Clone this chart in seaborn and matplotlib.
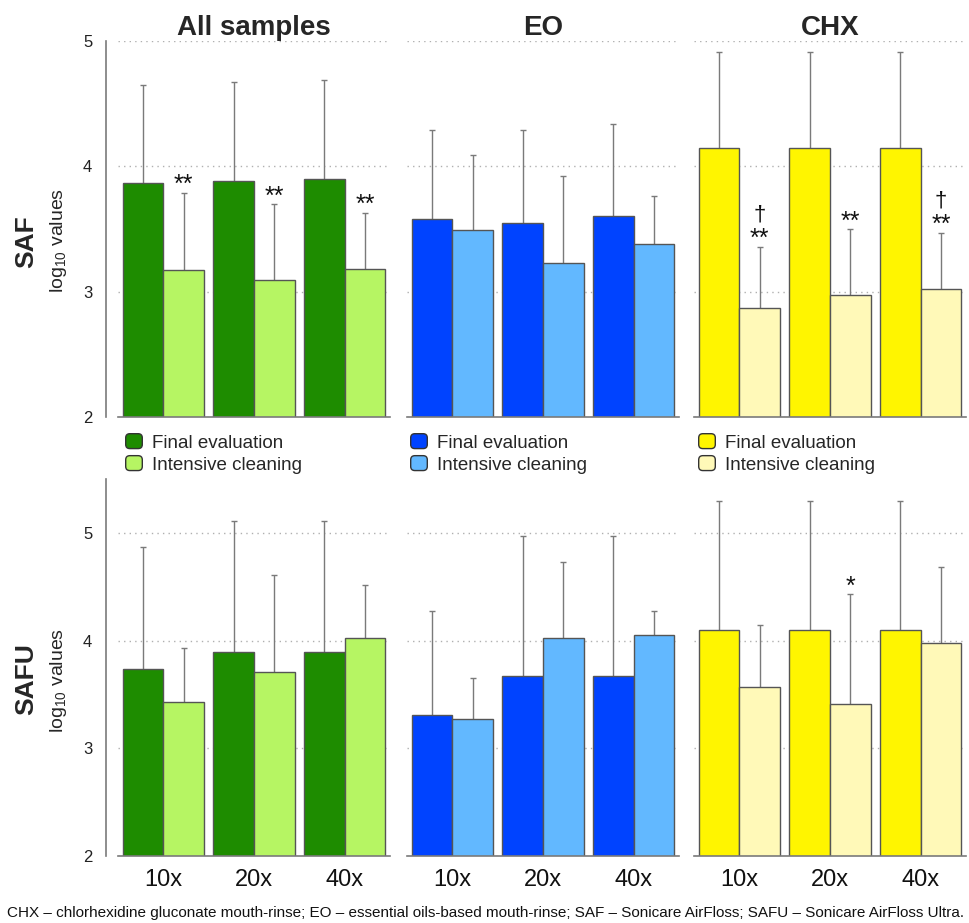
import numpy as np
import pandas as pd
import matplotlib
matplotlib.use("Agg")
import matplotlib.pyplot as plt
import seaborn as sns
from matplotlib.patches import Patch, FancyBboxPatch
from matplotlib.legend_handler import HandlerPatch

# ---------------- data ----------------
mags = ["10x", "20x", "40x"]
groups = ["All samples", "EO", "CHX"]
stages = ["Final evaluation", "Intensive cleaning"]

# SAF (top row)
saf_final_all = [3.87, 3.88, 3.90]
saf_final_eo = [3.58, 3.55, 3.60]
saf_final_chx = [4.15, 4.15, 4.15]
saf_final_err_all = [4.65, 4.67, 4.69]
saf_final_err_eo = [4.29, 4.29, 4.34]
saf_final_err_chx = [4.91, 4.91, 4.91]
saf_int_all = [3.17, 3.09, 3.18]
saf_int_eo = [3.49, 3.23, 3.38]
saf_int_chx = [2.87, 2.97, 3.02]
saf_int_err_all = [3.79, 3.70, 3.63]
saf_int_err_eo = [4.09, 3.92, 3.76]
saf_int_err_chx = [3.36, 3.50, 3.47]

# SAFU (bottom row)
safu_final_all = [3.74, 3.89, 3.89]
safu_final_eo = [3.31, 3.67, 3.67]
safu_final_chx = [4.10, 4.10, 4.10]
safu_final_err_all = [4.87, 5.11, 5.11]
safu_final_err_eo = [4.27, 4.97, 4.97]
safu_final_err_chx = [5.30, 5.30, 5.30]
safu_int_all = [3.43, 3.71, 4.02]
safu_int_eo = [3.27, 4.02, 4.05]
safu_int_chx = [3.57, 3.41, 3.98]
safu_int_err_all = [3.93, 4.61, 4.52]
safu_int_err_eo = [3.65, 4.73, 4.27]
safu_int_err_chx = [4.14, 4.43, 4.68]

# significance marks on the intensive-cleaning bars
saf_stars = {"All samples": ["**", "**", "**"], "EO": ["", "", ""], "CHX": ["**", "**", "**"]}
saf_dagger = {"All samples": ["", "", ""], "EO": ["", "", ""], "CHX": ["†", "", "†"]}
safu_stars = {"All samples": ["", "", ""], "EO": ["", "", ""], "CHX": ["", "*", ""]}
safu_dagger = {"All samples": ["", "", ""], "EO": ["", "", ""], "CHX": ["", "", ""]}

palettes = {
    "All samples": ["#1E8C00", "#B6F563"],
    "EO": ["#0043FF", "#62B8FF"],
    "CHX": ["#FFF500", "#FFF9B8"],
}

rows = [
    dict(name="SAF",
         final={"All samples": saf_final_all, "EO": saf_final_eo, "CHX": saf_final_chx},
         final_err={"All samples": saf_final_err_all, "EO": saf_final_err_eo, "CHX": saf_final_err_chx},
         inten={"All samples": saf_int_all, "EO": saf_int_eo, "CHX": saf_int_chx},
         inten_err={"All samples": saf_int_err_all, "EO": saf_int_err_eo, "CHX": saf_int_err_chx},
         stars=saf_stars, dagger=saf_dagger, ylim=(2, 5)),
    dict(name="SAFU",
         final={"All samples": safu_final_all, "EO": safu_final_eo, "CHX": safu_final_chx},
         final_err={"All samples": safu_final_err_all, "EO": safu_final_err_eo, "CHX": safu_final_err_chx},
         inten={"All samples": safu_int_all, "EO": safu_int_eo, "CHX": safu_int_chx},
         inten_err={"All samples": safu_int_err_all, "EO": safu_int_err_eo, "CHX": safu_int_err_chx},
         stars=safu_stars, dagger=safu_dagger, ylim=(2, 5.5)),
]

# ---------------- style ----------------
sns.set_style("white")
plt.rcParams["font.family"] = ["Liberation Sans", "DejaVu Sans"]
plt.rcParams["mathtext.fontset"] = "custom"
plt.rcParams["mathtext.rm"] = "Liberation Sans"
plt.rcParams["mathtext.it"] = "Liberation Sans:italic"
plt.rcParams["mathtext.bf"] = "Liberation Sans:bold"

W, H = 970, 923
fig = plt.figure(figsize=(W / 100, H / 100), dpi=100)

lefts_px = [118, 407, 694]
width_px = 272
row_boxes = [(417, 376), (856, 377)]  # (bottom px from top, height px)

GRAY = "#7a7a7a"


class RoundHandler(HandlerPatch):
    def create_artists(self, legend, orig_handle, xdescent, ydescent,
                       width, height, fontsize, trans):
        p = FancyBboxPatch((-xdescent + 0.5, -ydescent + 0.5), width - 1, height - 1,
                           boxstyle="round,pad=0,rounding_size=3",
                           fc=orig_handle.get_facecolor(), ec="#333333", lw=1.0,
                           transform=trans)
        return [p]


for r, row in enumerate(rows):
    bpx, hpx = row_boxes[r]
    for g, grp in enumerate(groups):
        ax = fig.add_axes([lefts_px[g] / W, (H - bpx) / H, width_px / W, hpx / H])
        df = pd.DataFrame({
            "mag": mags * 2,
            "stage": [stages[0]] * 3 + [stages[1]] * 3,
            "value": list(row["final"][grp]) + list(row["inten"][grp]),
            "top": list(row["final_err"][grp]) + list(row["inten_err"][grp]),
        })
        sns.barplot(data=df, x="mag", y="value", hue="stage", order=mags,
                    hue_order=stages, palette=palettes[grp], width=0.9, gap=0,
                    saturation=1, edgecolor="#555555", linewidth=1.0,
                    errorbar=None, legend=False, ax=ax, zorder=2)
        ax.set_xlim(-0.5, 2.5)
        ax.set_ylim(*row["ylim"])

        # error bars (upper only) from the drawn bars
        for p in ax.patches:
            cx = p.get_x() + p.get_width() / 2
            gi = int(round(cx))
            hi = 0 if cx < gi else 1
            sel = df[(df["mag"] == mags[gi]) & (df["stage"] == stages[hi])].iloc[0]
            val, top = sel["value"], sel["top"]
            eb = ax.errorbar([cx], [val], yerr=[[0], [top - val]], fmt="none",
                             ecolor=GRAY, elinewidth=1.0, capsize=2.2,
                             capthick=1.0, zorder=1.5)
            eb[1][0].set_visible(False)
            if hi == 1:
                star = row["stars"][grp][gi]
                dag = row["dagger"][grp][gi]
                if star:
                    ax.annotate(star, (cx, top), xytext=(0, 0.3),
                                textcoords="offset points", ha="center",
                                va="baseline", fontsize=18, color="#111111")
                if dag:
                    ax.annotate(dag, (cx, top), xytext=(0, 19),
                                textcoords="offset points", ha="center",
                                va="baseline", fontsize=16, color="#111111")

        # grid
        ax.set_yticks([2, 3, 4, 5])
        ax.yaxis.grid(True, linestyle=(0, (1, 3)), color="#b0b0b0", lw=1.0)
        ax.xaxis.grid(False)
        ax.set_axisbelow(True)

        for s in ["top", "right"]:
            ax.spines[s].set_visible(False)
        ax.spines["bottom"].set_color(GRAY)
        ax.spines["bottom"].set_linewidth(1.2)

        ax.set_xlabel("")
        ax.set_ylabel("")
        ax.set_xticks([0.5, 1.5], minor=True)
        ax.tick_params(axis="x", which="major", length=0, pad=9,
                       labelsize=17, labelcolor="#111111")
        ax.tick_params(axis="x", which="minor", length=7.2, width=1.2,
                       color=GRAY, direction="out")
        if r == 0:
            ax.tick_params(axis="x", which="major", labelbottom=False)

        if g == 0:
            ax.spines["left"].set_position(("outward", 8.6))
            ax.spines["left"].set_color(GRAY)
            ax.spines["left"].set_linewidth(1.2)
            minors = [2.5, 3.5, 4.5] + ([5.5] if row["ylim"][1] > 5 else [])
            ax.set_yticks(minors, minor=True)
            ax.tick_params(axis="y", which="major", length=8, width=1.2,
                           color=GRAY, labelsize=12, pad=2, labelcolor="#222222")
            ax.tick_params(axis="y", which="minor", length=4, width=1.2, color=GRAY)
        else:
            ax.spines["left"].set_visible(False)
            ax.tick_params(axis="y", which="both", length=0, labelleft=False)

        if r == 0:
            ax.set_title(grp, fontsize=20, fontweight="bold", pad=1)
            handles = [Patch(facecolor=palettes[grp][0]), Patch(facecolor=palettes[grp][1])]
            leg_x = [125, 410, 698][g]
            ax.legend(handles, stages, loc="upper left",
                      bbox_to_anchor=(leg_x / W, (H - 433) / H),
                      bbox_transform=fig.transFigure, frameon=False,
                      fontsize=13.5, handlelength=0.96, handleheight=0.96,
                      handletextpad=0.5, labelspacing=0.18, borderpad=0,
                      borderaxespad=0,
                      handler_map={Patch: RoundHandler()})

# row labels
fig.text(26 / W, (H - 242) / H, "SAF", rotation=90, ha="center", va="center",
         fontsize=19, fontweight="bold")
fig.text(59 / W, (H - 240) / H, r"log$_{\mathrm{10}}$ values", rotation=90,
         ha="center", va="center", fontsize=14)
fig.text(26 / W, (H - 679) / H, "SAFU", rotation=90, ha="center", va="center",
         fontsize=19, fontweight="bold")
fig.text(59 / W, (H - 680) / H, r"log$_{\mathrm{10}}$ values", rotation=90,
         ha="center", va="center", fontsize=14)

fig.text(7 / W, (H - 913) / H,
         "CHX – chlorhexidine gluconate mouth-rinse; EO – essential oils-based mouth-rinse; "
         "SAF – Sonicare AirFloss; SAFU – Sonicare AirFloss Ultra.",
         ha="left", va="center", fontsize=11, color="#111111")

fig.savefig("out.png", dpi=100)
